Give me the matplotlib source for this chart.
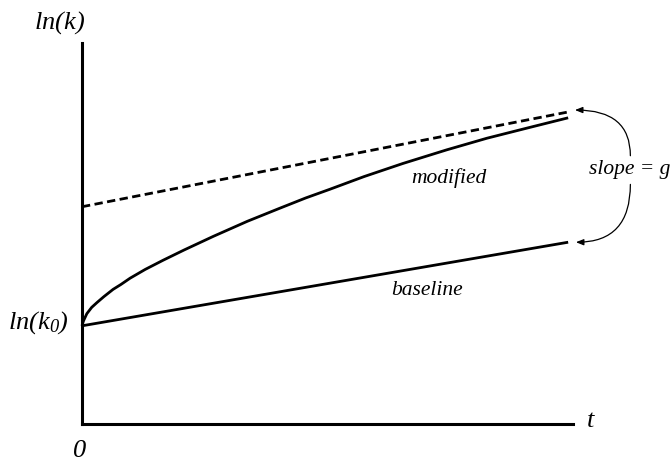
import matplotlib
matplotlib.use("Agg")
import matplotlib.pyplot as plt

plt.rcParams['font.family'] = ['Liberation Serif', 'DejaVu Serif']
plt.rcParams['mathtext.fontset'] = 'custom'
plt.rcParams['mathtext.rm'] = 'Liberation Serif:italic'
plt.rcParams['mathtext.it'] = 'Liberation Serif:italic'

# time axis and log capital
t_line = [0.0, 10.0]
baseline = [2.02, 3.74]
dashed = [4.47, 6.42]

t_mod = [0.0, 0.03, 0.1, 0.2, 0.31, 0.45, 0.64, 0.8, 0.99, 1.3, 1.67, 2.1,
         2.7, 3.4, 4.07, 4.6, 5.1, 5.8, 6.6, 7.5, 8.33, 9.2, 10.0]
k_mod = [2.02, 2.12, 2.27, 2.40, 2.50, 2.62, 2.77, 2.87, 3.0, 3.18, 3.37, 3.58,
         3.86, 4.17, 4.44, 4.65, 4.83, 5.09, 5.36, 5.64, 5.88, 6.10, 6.30]

fig = plt.figure(figsize=(6.72, 4.61), dpi=100)
ax = fig.add_axes([0.122, 0.0803, 0.7307, 0.8265])
ax.set_xlim(0, 10.1)
ax.set_ylim(0, 7.84)
for s in ['top', 'right']:
    ax.spines[s].set_visible(False)
for s in ['left', 'bottom']:
    ax.spines[s].set_linewidth(2.2)
ax.set_xticks([])
ax.set_yticks([])

ax.plot(t_line, baseline, color='black', lw=2.0, solid_capstyle='butt', clip_on=False)
ax.plot(t_line, dashed, color='black', lw=2.0, dashes=(3.0, 1.6), clip_on=False)
ax.plot(t_mod, k_mod, color='black', lw=2.0, solid_capstyle='butt',
        solid_joinstyle='round', clip_on=False)

fs = 19
ax.text(-0.47, 8.25, r'$ln(k)$', fontsize=fs, ha='center', va='center')
ax.text(-0.905, 2.08, r'$ln(k_0)$', fontsize=fs, ha='center', va='center')
ax.text(-0.04, -0.55, '0', fontsize=fs, style='italic', ha='center', va='center')
ax.text(10.47, 0.06, 't', fontsize=fs, style='italic', ha='center', va='center')

ax.text(7.55, 5.06, 'modified', fontsize=15.5, style='italic', ha='center', va='center')
ax.text(7.10, 2.74, 'baseline', fontsize=15.5, style='italic', ha='center', va='center')
ax.text(11.26, 5.23, 'slope = g', fontsize=15.5, style='italic', ha='center', va='center')

arrow = dict(arrowstyle='-|>,head_length=0.45,head_width=0.18', color='black',
             lw=0.9, shrinkA=0, shrinkB=0)
ax.annotate('', xy=(10.14, 6.46), xytext=(11.28, 5.52), annotation_clip=False,
            arrowprops=dict(arrow, connectionstyle='angle3,angleA=90,angleB=0'))
ax.annotate('', xy=(10.16, 3.74), xytext=(11.28, 4.93), annotation_clip=False,
            arrowprops=dict(arrow, connectionstyle='angle3,angleA=90,angleB=0'))

fig.savefig('out.png', dpi=100)
